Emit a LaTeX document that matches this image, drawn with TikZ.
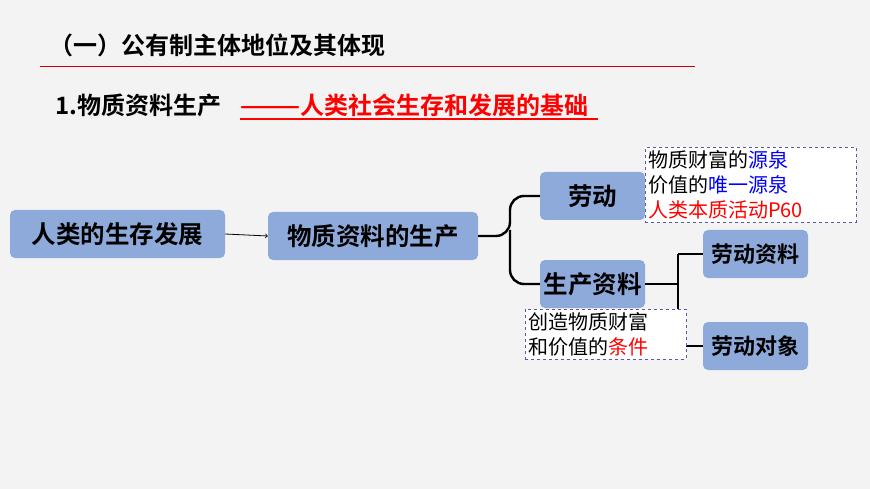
\documentclass[tikz,border=0pt]{standalone}
\usepackage{fontspec}
\setmainfont{Noto Sans CJK SC}[BoldFont={* Bold}]
\begin{document}
\begin{tikzpicture}[x=1pt,y=-1pt,
 box/.style={draw=none,fill=boxblue,rounded corners=5pt,font=\bfseries\fontsize{24.5}{27}\selectfont,inner sep=0pt},
 conn/.style={line width=2.4pt,black},
 note/.style={draw=gray!70!blue,dashed,fill=white,align=left,font=\fontsize{20}{25}\selectfont,inner sep=3pt}]
\definecolor{boxblue}{HTML}{8EAADB}
\definecolor{bg}{HTML}{F3F3F3}
\fill[bg] (0,0) rectangle (870,489);
\useasboundingbox (0,0) rectangle (870,489);
\node[anchor=west,font=\bfseries\fontsize{24}{27}\selectfont] (title) at (46,45) {（一）公有制主体地位及其体现};
\draw[red!80!black,line width=1pt] (40,67) -- (695,67);
\node[anchor=west,font=\bfseries\fontsize{24}{27}\selectfont,inner sep=0pt] (sub) at (55,105) {1.物质资料生产};
\node[anchor=west,font=\bfseries\fontsize{24}{27}\selectfont,text=red,inner sep=0pt] (subr) at (240,105) {———人类社会生存和发展的基础};
\draw[red,line width=1.2pt] (240,119) -- (598,119);
\node[box,minimum width=215pt,minimum height=48pt] (a) at (117.5,234) {人类的生存发展};
\node[box,minimum width=210pt,minimum height=48pt] (b) at (373,236) {物质资料的生产};
\node[box,minimum width=105pt,minimum height=48pt] (c) at (592.5,196) {劳动};
\node[box,minimum width=105pt,minimum height=48pt] (d) at (592.5,284) {生产资料};
\node[box,minimum width=105pt,minimum height=48pt,font=\bfseries\fontsize{22}{25}\selectfont] (e) at (755.5,254) {劳动资料};
\node[box,minimum width=105pt,minimum height=48pt,font=\bfseries\fontsize{22}{25}\selectfont] (f) at (755.5,346) {劳动对象};
\draw[->,line width=0.8pt] (a.east) -- (b.west);
\draw[conn,rounded corners=14pt] (b.east) -- (510,236) |- (c.west);
\draw[conn,rounded corners=14pt] (510,230) |- (d.west);
\coordinate (m) at (678,284);
\draw[conn] (d.east) -- (m);
\draw[conn] (678,254) -- (e.west);
\draw[conn] (678,254) -- (678,346) -- (f.west);
\node[note,anchor=north west,text width=205pt] (n1) at (645,147) {物质财富的\textcolor{blue}{源泉}\\价值的\textcolor{blue}{唯一源泉}\\\textcolor{red}{人类本质活动P60}};
\node[note,anchor=north west,text width=155pt] (n2) at (525,309) {创造物质财富\\和价值的\textcolor{red}{条件}};
\end{tikzpicture}
\end{document}
